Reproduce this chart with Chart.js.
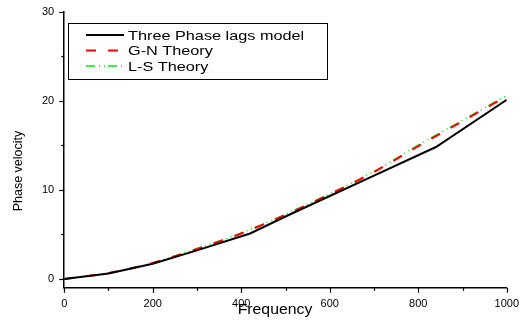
<!DOCTYPE html>
<html>
<head>
<meta charset="utf-8">
<script src="https://cdn.jsdelivr.net/npm/chart.js@4/dist/chart.umd.min.js"></script>
<style>
  html, body { margin: 0; padding: 0; background: #fff; }
  #wrap { width: 524px; height: 320px; }
</style>
</head>
<body>
<div id="wrap"><canvas id="c" width="524" height="320"></canvas></div>
<script>
// valeurs
const freqModel = [0, 100, 200, 300, 420, 500, 600, 700, 840, 1000];
const threePhase = [0, 0.6, 1.7, 3.2, 5.1, 7.0, 9.3, 11.6, 14.8, 20.1];
const freqTheory = [0, 100, 200, 300, 400, 500, 600, 700, 800, 900, 1000];
const gnTheory = [0, 0.65, 1.8, 3.35, 5.1, 7.2, 9.5, 12.0, 14.9, 17.7, 20.5];
const lsTheory = [0, 0.65, 1.8, 3.4, 5.15, 7.25, 9.55, 12.05, 15.0, 17.8, 20.6];
const seriesNames = ['Three Phase lags model', 'G-N Theory', 'L-S Theory'];
const xTicks = [0, 100, 200, 300, 400, 500, 600, 700, 800, 900, 1000];
const yTicks = [0, 5, 10, 15, 20, 25, 30];
const xTitle = 'Frequency';
const yTitle = 'Phase velocity';

const FONT = '"Liberation Sans", Arial, sans-serif';
const pts = (xs, ys) => xs.map((x, i) => ({ x: x, y: ys[i] }));

// ticks majeurs / mineurs + titres des axes
const axisDecor = {
    id: 'axisDecor',
    afterDraw(chart) {
        const ctx = chart.ctx;
        const xs = chart.scales.x, ys = chart.scales.y;
        const area = chart.chartArea;
        ctx.save();
        ctx.strokeStyle = '#000';
        ctx.lineWidth = 1.2;
        xTicks.forEach(v => {
            const px = Math.round(xs.getPixelForValue(v)) + 0.5;
            const len = v % 200 === 0 ? 5 : 3;
            ctx.beginPath();
            ctx.moveTo(px, area.bottom);
            ctx.lineTo(px, area.bottom + len);
            ctx.stroke();
        });
        yTicks.forEach(v => {
            const py = Math.round(ys.getPixelForValue(v)) + 0.5;
            const len = v % 10 === 0 ? 5 : 3;
            ctx.beginPath();
            ctx.moveTo(area.left, py);
            ctx.lineTo(area.left - len, py);
            ctx.stroke();
        });

        ctx.fillStyle = '#000';
        ctx.textAlign = 'center';
        ctx.textBaseline = 'alphabetic';
        ctx.save();
        ctx.translate(275, 314);
        ctx.scale(1.13, 1);
        ctx.font = '14px ' + FONT;
        ctx.fillText(xTitle, 0, 0);
        ctx.restore();

        ctx.save();
        ctx.translate(22, 171);
        ctx.rotate(-Math.PI / 2);
        ctx.font = '12.5px ' + FONT;
        ctx.fillText(yTitle, 0, 0);
        ctx.restore();
        ctx.restore();
    }
};

// légende encadrée
const boxLegend = {
    id: 'boxLegend',
    afterDraw(chart) {
        const ctx = chart.ctx;
        const x0 = 68.5, y0 = 23.5, w = 259, h = 56;
        ctx.save();
        ctx.fillStyle = '#fff';
        ctx.fillRect(x0, y0, w, h);
        ctx.strokeStyle = '#000';
        ctx.lineWidth = 1;
        ctx.strokeRect(x0, y0, w, h);
        chart.data.datasets.forEach((ds, i) => {
            const y = 35 + i * 15.5;
            ctx.strokeStyle = ds.borderColor;
            ctx.lineWidth = ds.borderWidth;
            ctx.setLineDash(ds.borderDash || []);
            ctx.beginPath();
            ctx.moveTo(86, y);
            ctx.lineTo(124, y);
            ctx.stroke();
            ctx.setLineDash([]);
            ctx.save();
            ctx.translate(128, y);
            ctx.scale(1.25, 1);
            ctx.fillStyle = '#000';
            ctx.font = '13px ' + FONT;
            ctx.textBaseline = 'middle';
            ctx.fillText(ds.label, 0, 1);
            ctx.restore();
        });
        ctx.restore();
    }
};

new Chart(document.getElementById('c'), {
    type: 'scatter',
    data: {
        datasets: [
            {
                label: seriesNames[0],
                data: pts(freqModel, threePhase),
                showLine: true,
                borderColor: '#000000',
                borderWidth: 2,
                pointRadius: 0,
                tension: 0
            },
            {
                label: seriesNames[1],
                data: pts(freqTheory, gnTheory),
                showLine: true,
                borderColor: '#ff0000',
                borderWidth: 2,
                borderDash: [10, 12],
                pointRadius: 0,
                cubicInterpolationMode: 'monotone'
            },
            {
                label: seriesNames[2],
                data: pts(freqTheory, lsTheory),
                showLine: true,
                borderColor: '#00ee00',
                borderWidth: 1.5,
                borderDash: [9, 4, 1, 4, 1, 3],
                pointRadius: 0,
                cubicInterpolationMode: 'monotone'
            }
        ]
    },
    options: {
        responsive: false,
        animation: false,
        layout: { padding: { top: 10, right: 11, left: 37, bottom: 4 } },
        plugins: {
            legend: { display: false },
            tooltip: { enabled: false }
        },
        scales: {
            x: {
                type: 'linear',
                min: 0,
                max: 1000,
                afterBuildTicks: s => { s.ticks = xTicks.filter(v => v % 200 === 0).map(v => ({ value: v })); },
                ticks: { color: '#000', font: { family: FONT, size: 11 }, padding: 5, maxRotation: 0, callback: v => String(v) },
                grid: { display: true, drawOnChartArea: false, drawTicks: true, tickLength: 5, color: 'rgba(0,0,0,0)' },
                border: { display: true, color: '#000', width: 1.5 }
            },
            y: {
                type: 'linear',
                min: -1,
                max: 30,
                afterBuildTicks: s => { s.ticks = yTicks.filter(v => v % 10 === 0).map(v => ({ value: v })); },
                ticks: { color: '#000', font: { family: FONT, size: 11 }, padding: 5, callback: v => String(v) },
                grid: { display: true, drawOnChartArea: false, drawTicks: true, tickLength: 5, color: 'rgba(0,0,0,0)' },
                border: { display: true, color: '#000', width: 1.5 }
            }
        }
    },
    plugins: [axisDecor, boxLegend]
});
</script>
</body>
</html>
